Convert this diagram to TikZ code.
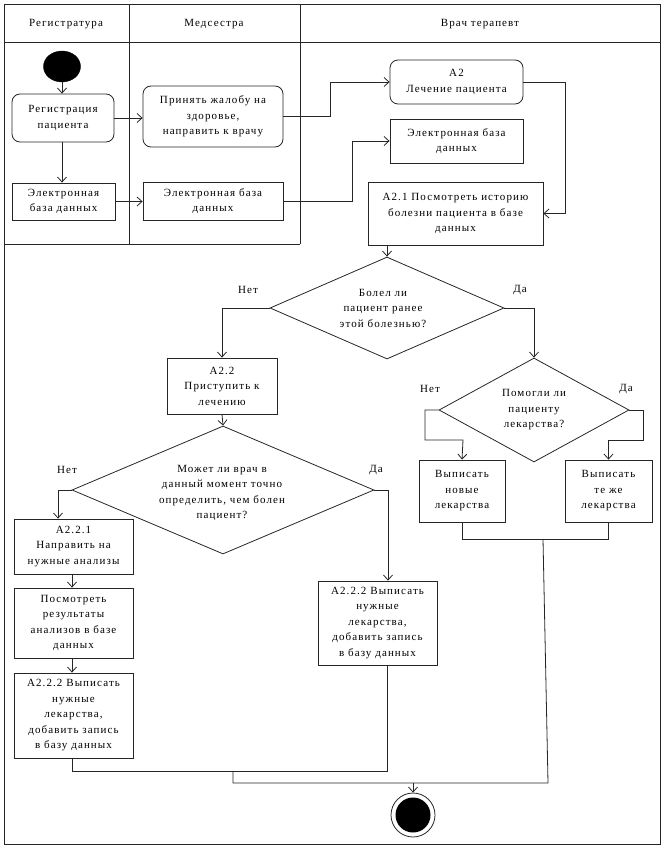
\documentclass[tikz,border=0pt]{standalone}
\usepackage{fontspec}
\setmainfont[LetterSpace=10]{Liberation Serif}
\usetikzlibrary{arrows.meta,shapes.geometric,calc}
\begin{document}
\begin{tikzpicture}[x=1pt,y=-1pt,
  every node/.style={font=\fontsize{11}{15.5}\selectfont},
  ln/.style={draw=black!85,line width=0.8pt},
  arr/.style={ln,-{Straight Barb[length=5pt,width=9pt]}},
  box/.style={ln,rectangle,align=center,inner sep=1pt},
  rbox/.style={box,rounded corners=8pt},
  dia/.style={ln,diamond,inner sep=0pt},
  lbl/.style={align=center,inner sep=0pt},
  start/.style={ellipse,fill=black,draw=black,minimum width=37,minimum height=31,inner sep=0pt},
  endo/.style={circle,ln,minimum size=44,inner sep=0pt},
  endi/.style={circle,fill=black,minimum size=35,inner sep=0pt}
]
\useasboundingbox (0,0) rectangle (666,850);
% swimlanes
\draw[ln] (4,4) rectangle (660,844);
\draw[ln] (4,42) -- (660,42);
\draw[ln] (129,4) -- (129,244);
\draw[ln] (300,4) -- (300,244);
\draw[ln] (4,244) -- (300,244);
\node[lbl] (h1) at (66,24) {Регистратура};
\node[lbl] (h2) at (214,24) {Медсестра};
\node[lbl] (h3) at (480,24) {Врач терапевт};

% nodes
\node[start] (st) at (62,66.5) {};
\node[rbox,minimum width=102,minimum height=48] (reg) at (63,118) {Регистрация\\пациента};
\node[box,minimum width=103,minimum height=37] (ebd1) at (63.5,201.5) {Электронная\\база данных};
\node[rbox,minimum width=140,minimum height=61] (prin) at (213,116.5) {Принять жалобу на\\здоровье,\\направить к врачу};
\node[box,minimum width=140,minimum height=38] (ebd2) at (213,201) {Электронная база\\данных};
\node[rbox,minimum width=133,minimum height=44] (a2) at (456.5,82) {A2\\Лечение пациента};
\node[box,minimum width=133,minimum height=44] (ebd3) at (456.5,141) {Электронная база\\данных};
\node[box,minimum width=175,minimum height=63] (a21) at (455.5,213.5) {A2.1 Посмотреть историю\\болезни пациента в базе\\данных};

\node[dia,minimum width=234,minimum height=102] (d1) at (387,308) {};
\node[lbl] (d1t) at (383,308) {Болел ли\\пациент ранее\\этой болезнью?};
\node[lbl] (d1n) at (248,290) {Нет};
\node[lbl] (d1y) at (520,290) {Да};

\node[box,minimum width=110,minimum height=56] (a22) at (222,386) {A2.2\\Приступить к\\лечению};

\node[dia,minimum width=190,minimum height=104] (d2) at (534,410) {};
\node[lbl] (d2t) at (534,410) {Помогли ли\\пациенту\\лекарства?};
\node[lbl] (d2n) at (430,389) {Нет};
\node[lbl] (d2y) at (626,389) {Да};

\node[box,minimum width=86,minimum height=62] (vn) at (462,491) {Выписать\\новые\\лекарства};
\node[box,minimum width=87,minimum height=62] (vt) at (608.5,491) {Выписать\\те же\\лекарства};

\node[dia,minimum width=302,minimum height=128] (d3) at (223,490) {};
\node[lbl] (d3t) at (222,493) {Может ли врач в\\данный момент точно\\определить, чем болен\\пациент?};
\node[lbl] (d3n) at (67,470) {Нет};
\node[lbl] (d3y) at (376,470) {Да};

\node[box,minimum width=119,minimum height=55] (a221) at (73.5,546.5) {A2.2.1\\Направить на\\нужные анализы};
\node[box,minimum width=119,minimum height=70] (pos) at (73.5,623) {Посмотреть\\результаты\\анализов в базе\\данных};
\node[box,minimum width=119,minimum height=85] (a222l) at (73.5,715.5) {A2.2.2 Выписать\\нужные\\лекарства,\\добавить запись\\в базу данных};
\node[box,minimum width=119,minimum height=84] (a222r) at (377.5,623) {A2.2.2 Выписать\\нужные\\лекарства,\\добавить запись\\в базу данных};

\node[endo] (en) at (413,815) {};
\node[endi] (eni) at (en.center) {};

% junctions
\coordinate (j1) at (543,539);
\coordinate (j2) at (548,783);
\coordinate (j3) at (233,771);
\coordinate (j4) at (233,783);

% connectors
\draw[arr] (st.south) -- (reg.north -| st.south);
\draw[arr] (reg.south -| 62,0) -- (ebd1.north -| 62,0);
\draw[arr] (reg.east) -- (reg.east -| prin.west);
\draw[arr] (ebd1.east) -- (ebd1.east -| ebd2.west);
\draw[arr] (prin.east) -- (330,116.5) |- (a2.west);
\draw[arr] (ebd2.east) -- (352,201) |- (ebd3.west);
\draw[arr] (a2.east) -- (565,82) |- (a21.east);
\draw[arr] (a21.south -| d1.north) -- (d1.north);
\draw[arr] (d1.west) -| (a22.north);
\draw[arr] (d1.east) -| (d2.north);
\draw[arr] (d2.west) -- (425,410) |- (463,440) -- (vn.north);
\draw[arr] (d2.east) -- (643,410) |- (608.5,440) -- (vt.north);
\draw[arr] (a22.south) -- (d3.north);
\draw[arr] (d3.west) -| (a221.north -| 58,0);
\draw[arr] (d3.east) -| (a222r.north -| 388,0);
\draw[arr] (a221.south -| 72,0) -- (pos.north -| 72,0);
\draw[arr] (pos.south -| 72,0) -- (a222l.north -| 72,0);
\draw[ln] (vn.south) -- (vn.south |- j1) -- (vt.south |- j1) -- (vt.south);
\draw[ln] (j1) -- (j2) -- (j4) -- (j3);
\draw[ln] (a222l.south -| 72,0) -- (72,771) -- (387,771) -- (a222r.south -| 387,0);
\draw[arr] (en.north |- j2) -- (en.north);
\end{tikzpicture}
\end{document}
